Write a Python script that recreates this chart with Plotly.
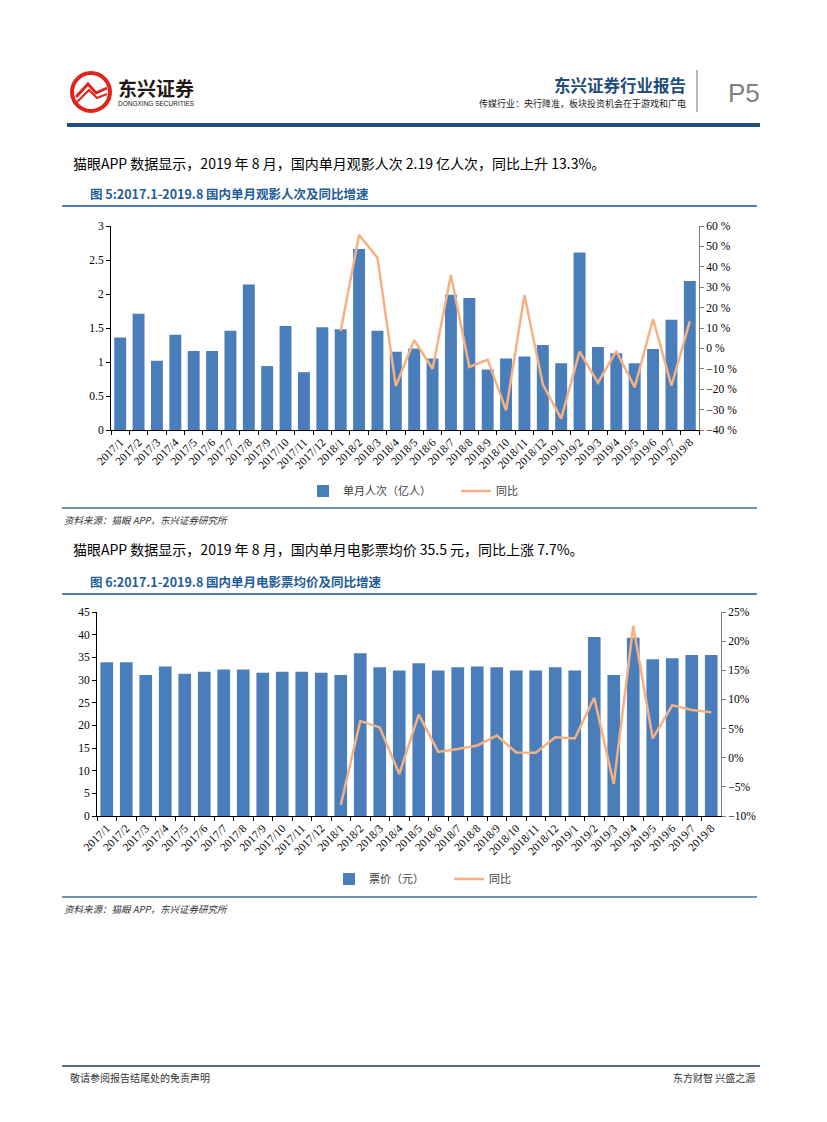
import plotly.graph_objects as go

# ---------------- data ----------------
months = ["2017/1", "2017/2", "2017/3", "2017/4", "2017/5", "2017/6", "2017/7", "2017/8",
          "2017/9", "2017/10", "2017/11", "2017/12", "2018/1", "2018/2", "2018/3", "2018/4",
          "2018/5", "2018/6", "2018/7", "2018/8", "2018/9", "2018/10", "2018/11", "2018/12",
          "2019/1", "2019/2", "2019/3", "2019/4", "2019/5", "2019/6", "2019/7", "2019/8"]

audience = [1.36, 1.71, 1.02, 1.40, 1.16, 1.16, 1.46, 2.14,
            0.94, 1.53, 0.85, 1.51, 1.48, 2.66, 1.46, 1.15,
            1.20, 1.05, 1.99, 1.94, 0.89, 1.05, 1.08, 1.25,
            0.98, 2.61, 1.22, 1.13, 0.98, 1.19, 1.62, 2.19]

audience_yoy = [None] * 12 + [8.5, 55.6, 44.5, -18.4, 4.0, -10.0, 36.0, -9.1,
                              -5.5, -30.4, 26.2, -17.6, -34.4, -1.6, -16.8, -1.3,
                              -19.1, 14.4, -18.3, 13.3]

price = [33.9, 33.9, 31.1, 33.0, 31.4, 31.8, 32.3, 32.3,
         31.6, 31.8, 31.8, 31.6, 31.1, 35.9, 32.8, 32.1,
         33.7, 32.1, 32.8, 33.0, 32.8, 32.1, 32.1, 32.8,
         32.1, 39.5, 31.1, 39.3, 34.6, 34.8, 35.5, 35.5]

price_yoy = [None] * 12 + [-8.1, 6.3, 5.2, -2.8, 7.4, 1.0, 1.5, 2.1,
                           3.8, 0.9, 0.85, 3.5, 3.3, 10.3, -4.5, 22.6,
                           3.3, 9.0, 8.2, 7.8]

BLUE = "#4A7EBB"
ORANGE = "#F5B183"
NAVY = "#1F4E79"
CJK = "Noto Sans CJK SC"
SERIF = "Liberation Serif"

W, H = 827, 1122


def X(p):
    return p / W


def Y(p):
    return 1 - p / H


fig = go.Figure()

fig.add_trace(go.Bar(x=months, y=audience, name="单月人次（亿人）", marker_color=BLUE,
                     marker_line_width=0, xaxis="x", yaxis="y", legend="legend"))
fig.add_trace(go.Scatter(x=months, y=audience_yoy, name="同比", mode="lines",
                         line=dict(color=ORANGE, width=2.5), xaxis="x", yaxis="y2",
                         legend="legend"))
fig.add_trace(go.Bar(x=months, y=price, name="票价（元）", marker_color=BLUE,
                     marker_line_width=0, xaxis="x2", yaxis="y3", legend="legend2"))
fig.add_trace(go.Scatter(x=months, y=price_yoy, name="同比", mode="lines",
                         line=dict(color=ORANGE, width=2.5), xaxis="x2", yaxis="y4",
                         legend="legend2"))

tickfont = dict(family=SERIF, size=11.5, color="#000")

xcommon = dict(type="category", tickangle=-45, tickson="boundaries", ticks="outside",
               ticklen=4, tickcolor="#000", showline=True, linecolor="#000", linewidth=1,
               showgrid=False, zeroline=False, tickfont=tickfont, automargin=False)
ycommon = dict(ticks="outside", ticklen=4, tickcolor="#000", showline=True, linecolor="#000",
               linewidth=1, showgrid=False, zeroline=False, tickfont=tickfont, automargin=False)

fig.update_layout(
    template="none",
    width=W, height=H, margin=dict(l=0, r=0, t=0, b=0, pad=0, autoexpand=False),
    paper_bgcolor="white", plot_bgcolor="white",
    bargap=0.35, showlegend=True,
    xaxis=dict(domain=[X(111), X(699)], anchor="y", **xcommon),
    yaxis=dict(domain=[Y(430), Y(226)], anchor="x", range=[0, 3], dtick=0.5, **ycommon),
    yaxis2=dict(overlaying="y", side="right", anchor="x", range=[-40, 60], dtick=10,
                ticksuffix=" %", **{**ycommon, "linecolor": "#808080", "tickcolor": "#808080"}),
    xaxis2=dict(domain=[X(97), X(721)], anchor="y3", **xcommon),
    yaxis3=dict(domain=[Y(816), Y(612)], anchor="x2", range=[0, 45], dtick=5, **ycommon),
    yaxis4=dict(overlaying="y3", side="right", anchor="x2", range=[-10, 25], dtick=5,
                ticksuffix="%", **{**ycommon, "linecolor": "#808080", "tickcolor": "#808080"}),
    legend=dict(orientation="h", x=X(303), y=Y(491), xanchor="left", yanchor="middle",
                entrywidth=108, entrywidthmode="pixels", bgcolor="rgba(0,0,0,0)",
                font=dict(family=CJK, size=11, color="#404040")),
    legend2=dict(orientation="h", x=X(329), y=Y(879), xanchor="left", yanchor="middle",
                 entrywidth=75, entrywidthmode="pixels", bgcolor="rgba(0,0,0,0)",
                 font=dict(family=CJK, size=11, color="#404040")),
)

shapes = []
annotations = []


def hline(y, x0, x1, color, width):
    shapes.append(dict(type="line", xref="paper", yref="paper", x0=X(x0), x1=X(x1),
                       y0=Y(y), y1=Y(y), line=dict(color=color, width=width)))


def text(x, y, s, size, color="#000", family=CJK, xanchor="left", bold=False):
    if bold:
        s = "<b>" + s + "</b>"
    annotations.append(dict(xref="paper", yref="paper", x=X(x), y=Y(y), text=s,
                            showarrow=False, xanchor=xanchor, yanchor="middle",
                            font=dict(size=size, color=color, family=family)))


# ---- header ----
# logo: red ring with swirl
shapes.append(dict(type="circle", xref="paper", yref="paper",
                   x0=X(72), x1=X(110), y0=Y(111), y1=Y(73),
                   line=dict(color="#E2231A", width=4), fillcolor="white"))


def path(points):
    return "M " + " L ".join(f"{X(px):.5f},{Y(py):.5f}" for px, py in points)


shapes.append(dict(type="path", xref="paper", yref="paper",
                   path=path([(76, 97), (88, 84), (96, 93), (107, 88)]),
                   line=dict(color="#E2231A", width=3)))
shapes.append(dict(type="path", xref="paper", yref="paper",
                   path=path([(77, 102), (89, 90), (97, 98), (107, 94)]),
                   line=dict(color="#E2231A", width=2)))
text(116, 88, "东兴证券", 19, "#231815", bold=True)
text(116, 104, "DONGXING SECURITIES", 6.5, "#231815", family="Liberation Sans")

text(688, 85, "东兴证券行业报告", 16.5, NAVY, xanchor="right", bold=True)
text(688, 104, "传媒行业：央行降准，板块投资机会在于游戏和广电", 9, "#222", xanchor="right")
shapes.append(dict(type="line", xref="paper", yref="paper", x0=X(697), x1=X(697),
                   y0=Y(70), y1=Y(112), line=dict(color="#A0A0A0", width=1.5)))
text(744, 93, "P5", 26, "#7F7F7F", family="Liberation Sans", xanchor="center")
hline(125, 67, 760, NAVY, 4)

# ---- section 1 ----
text(71, 163, "猫眼APP 数据显示，2019 年 8 月，国内单月观影人次 2.19 亿人次，同比上升 13.3%。", 14)
text(88, 194, "图 5:2017.1-2019.8 国内单月观影人次及同比增速", 12.5, "#1F5C99", bold=True)
hline(206, 62, 757, "#4F7FAF", 2)
hline(508, 62, 757, "#3E6E9E", 1.5)
text(62, 520, "<i>资料来源：猫眼 APP，东兴证券研究所</i>", 9.5, "#333")

# ---- section 2 ----
text(71, 549, "猫眼APP 数据显示，2019 年 8 月，国内单月电影票均价 35.5 元，同比上涨 7.7%。", 14)
text(88, 581, "图 6:2017.1-2019.8 国内单月电影票均价及同比增速", 12.5, "#1F5C99", bold=True)
hline(594, 62, 757, "#4F7FAF", 2)
hline(897, 62, 757, "#3E6E9E", 1.5)
text(62, 909, "<i>资料来源：猫眼 APP，东兴证券研究所</i>", 9.5, "#333")

# ---- footer ----
hline(1066, 62, 760, "#1F3B5A", 1.5)
text(68, 1077, "敬请参阅报告结尾处的免责声明", 10, "#333")
text(757, 1077, "东方财智 兴盛之源", 10, "#333", xanchor="right")

fig.update_layout(shapes=shapes, annotations=annotations)

fig.write_html("out.html", config={"displayModeBar": False},
               post_script="document.body.style.margin='0';")
